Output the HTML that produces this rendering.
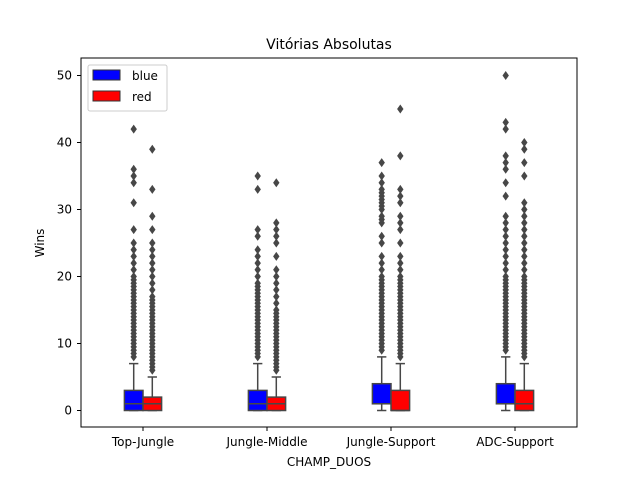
<!DOCTYPE html>
<html><head><meta charset="utf-8"><style>
body{margin:0;background:#fff;font-family:"Liberation Sans","DejaVu Sans",sans-serif}
text{font-family:"DejaVu Sans","Liberation Sans",sans-serif}
</style></head><body>
<svg id="c" width="640" height="480">
<rect width="640" height="480" fill="#fff"/>
<text x="329" y="49" text-anchor="middle" font-size="14">Vitórias Absolutas</text>
<g id="plot"></g>
<rect x="81" y="58" width="496" height="369" fill="none" stroke="#000" stroke-width="1"/>
<text x="329" y="466" text-anchor="middle" font-size="12">CHAMP_DUOS</text>
<text transform="translate(44,243) rotate(-90)" text-anchor="middle" font-size="12">Wins</text>
<g>
<rect x="88" y="65" width="79" height="46" rx="2" fill="#fff" stroke="#ccc"/>
<rect x="93" y="70" width="27" height="10" fill="#00f" stroke="#333"/>
<text x="132" y="80" font-size="12">blue</text>
<rect x="93" y="91" width="27" height="10" fill="#f00" stroke="#333"/>
<text x="132" y="101" font-size="12">red</text>
</g>
</svg>
<script>
const categories=["Top-Jungle","Jungle-Middle","Jungle-Support","ADC-Support"];
const yTicks=[0,10,20,30,40,50];
// [whiskerLow, q1, median, q3, whiskerHigh]
const blueStats=[[0,0,1,3,7],[0,0,1,3,7],[0,1,1,4,8],[0,1,1,4,8]];
const redStats=[[0,0,1,2,5],[0,0,1,2,5],[0,0,0,3,7],[0,0,1,3,7]];
const blueOutliers=[
[8,8.5,9,9.5,10,10.5,11,11.5,12,12.5,13,13.5,14,14.5,15,15.5,16,16.5,17,17.5,18,18.5,19,19.5,20,21,22,23,24,25,27,31,34,35,36,42],
[8,8.5,9,9.5,10,10.5,11,11.5,12,12.5,13,13.5,14,14.5,15,15.5,16,16.5,17,17.5,18,18.5,19,20,21,22,23,24,26,27,33,35],
[9,9.5,10,10.5,11,11.5,12,12.5,13,13.5,14,14.5,15,15.5,16,16.5,17,17.5,18,18.5,19,19.5,20,21,22,23,25,26,28,28.5,29,30,30.5,31,31.5,32,32.5,33,34,35,37],
[9,9.5,10,10.5,11,11.5,12,12.5,13,13.5,14,14.5,15,15.5,16,16.5,17,17.5,18,18.5,19,19.5,20,21,22,23,24,25,26,27,28,29,32,34,36,37,38,42,43,50]];
const redOutliers=[
[6,6.5,7,7.5,8,8.5,9,9.5,10,10.5,11,11.5,12,12.5,13,13.5,14,14.5,15,15.5,16,16.5,17,18,19,20,21,22,23,24,25,27,29,33,39],
[6,6.5,7,7.5,8,8.5,9,9.5,10,10.5,11,11.5,12,12.5,13,13.5,14,14.5,15,16,17,18,19,20,21,23,25,26,27,28,34],
[8,8.5,9,9.5,10,10.5,11,11.5,12,12.5,13,13.5,14,14.5,15,15.5,16,16.5,17,17.5,18,18.5,19,19.5,20,21,22,23,25,27,28,29,31,32,33,38,45],
[8,8.5,9,9.5,10,10.5,11,11.5,12,12.5,13,13.5,14,14.5,15,15.5,16,16.5,17,17.5,18,18.5,19,19.5,20,21,22,23,24,25,26,27,28,29,30,31,35,37,39,40]];
const NS="http://www.w3.org/2000/svg";
const svg=document.getElementById('c'),plot=document.getElementById('plot');
const X0=81,W=496;
const y=v=>410.5-v*6.7;
const xc=i=>X0+W/categories.length*(i+0.5);
function mk(tag,attrs,parent){const e=document.createElementNS(NS,tag);for(const k in attrs)e.setAttribute(k,attrs[k]);(parent||plot).appendChild(e);return e;}
yTicks.forEach(t=>{
 const l=mk('line',{x1:77,x2:81,y1:y(t),y2:y(t),stroke:'#000'},svg);
 
 
 const tx=mk('text',{x:72,y:y(t)+4,'text-anchor':'end','font-size':12},svg);
 tx.textContent=t;
 
 
});
categories.forEach((c,i)=>{
 const l=mk('line',{x1:xc(i),x2:xc(i),y1:427,y2:431,stroke:'#000'},svg);
 
 
 const tx=mk('text',{x:xc(i),y:446,'text-anchor':'middle','font-size':12},svg);
 tx.textContent=c;
 
 
});
function box(cx,s,out,color,name){
 const g=mk('g',{});
 
 
 const hw=9.3,st='#474747';
 out.forEach(v=>{const d=mk('path',{d:`M${cx} ${y(v)-4.5}L${cx+3.2} ${y(v)}L${cx} ${y(v)+4.5}L${cx-3.2} ${y(v)}Z`,fill:'#474747'},g);
  
  });
 mk('line',{x1:cx,x2:cx,y1:y(s[3]),y2:y(s[4]),stroke:st,'stroke-width':1.5},g);
 mk('line',{x1:cx,x2:cx,y1:y(s[1]),y2:y(s[0]),stroke:st,'stroke-width':1.5},g);
 mk('line',{x1:cx-hw/2,x2:cx+hw/2,y1:y(s[4]),y2:y(s[4]),stroke:st,'stroke-width':1.5},g);
 mk('line',{x1:cx-hw/2,x2:cx+hw/2,y1:y(s[0]),y2:y(s[0]),stroke:st,'stroke-width':1.5},g);
 const r=mk('rect',{x:cx-hw,y:y(s[3]),width:hw*2,height:Math.max(y(s[1])-y(s[3]),0.5),fill:color,stroke:st,'stroke-width':1.5},g);
 
 
 mk('line',{x1:cx-hw,x2:cx+hw,y1:y(s[2]),y2:y(s[2]),stroke:st,'stroke-width':1.5},g);
}
categories.forEach((c,i)=>{
 box(xc(i)-9.3,blueStats[i],blueOutliers[i],'#0000ff','box-blue-'+i);
 box(xc(i)+9.3,redStats[i],redOutliers[i],'#ff0000','box-red-'+i);
});
</script>
</body></html>
